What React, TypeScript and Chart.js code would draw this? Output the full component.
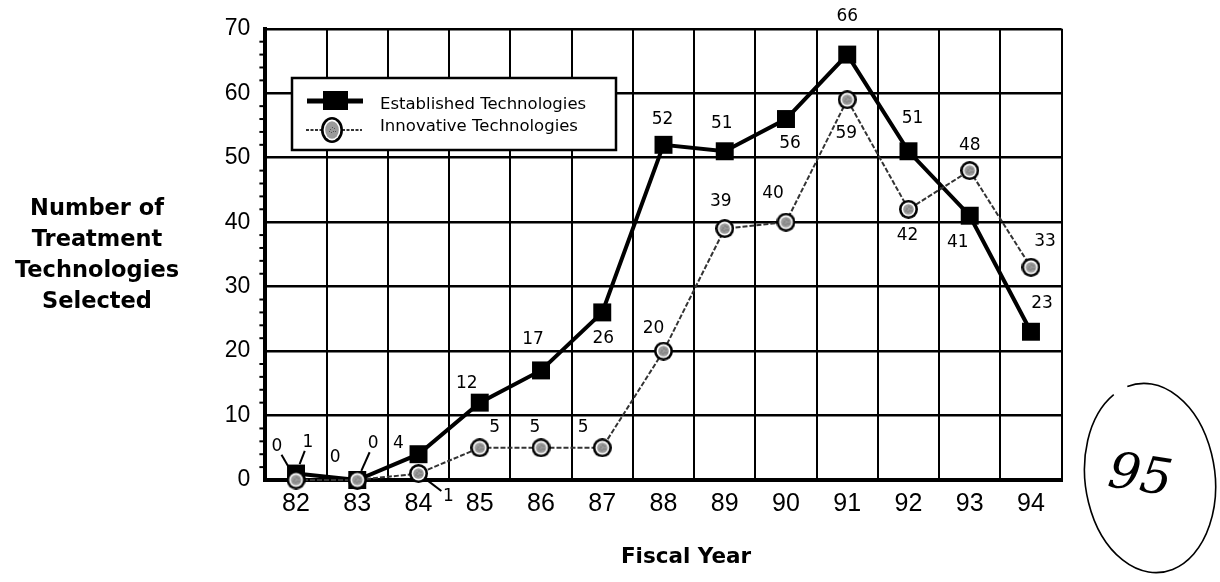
import React, { useEffect, useRef } from "react";
import { Chart, registerables } from "chart.js";

Chart.register(...registerables);

const years = ["82", "83", "84", "85", "86", "87", "88", "89", "90", "91", "92", "93", "94"];
const established = [1, 0, 4, 12, 17, 26, 52, 51, 56, 66, 51, 41, 23];
const innovative = [0, 0, 1, 5, 5, 5, 20, 39, 40, 59, 42, 48, 33];
const yTickValues = [0, 10, 20, 30, 40, 50, 60, 70];
const seriesNames = ["Established Technologies", "Innovative Technologies"];
const yTitleLines = ["Number of", "Treatment", "Technologies", "Selected"];
const xTitle = "Fiscal Year";

// label placement (dx, dy, leader line) per point
const estLabelPlace: [number, number, boolean][] = [
  [12, -31, true], [-22, -22, false], [-20, -11, false], [-13, -19, false],
  [-8, -31, false], [1, 26, false], [-1, -25, false], [-3, -28, false],
  [4, 25, false], [0, -38, false], [4, -33, false], [-12, 27, false], [11, -28, false],
];
const innLabelPlace: [number, number, boolean][] = [
  [-19, -33, true], [16, -36, true], [30, 23, true], [15, -20, false],
  [-6, -20, false], [-19, -20, false], [-10, -23, false], [-4, -27, false],
  [-13, -29, false], [-1, 34, false], [-1, 26, false], [0, -25, false], [14, -26, false],
];

const FONT = "'Liberation Sans', Arial, Helvetica, sans-serif";
const WIDE = "'DejaVu Sans', Verdana, sans-serif";

function makeCircleMarker(w: number, h: number): HTMLCanvasElement {
  const c = document.createElement("canvas");
  c.width = w;
  c.height = h;
  const g = c.getContext("2d")!;
  const cx = w / 2, cy = h / 2;
  g.fillStyle = "#000";
  g.beginPath();
  g.ellipse(cx, cy, w / 2, h / 2, 0, 0, Math.PI * 2);
  g.fill();
  g.fillStyle = "#fff";
  g.beginPath();
  g.ellipse(cx, cy, w / 2 - 2.6, h / 2 - 2.6, 0, 0, Math.PI * 2);
  g.fill();
  g.fillStyle = "#9a9a9a";
  g.beginPath();
  g.ellipse(cx, cy, w / 2 - 4.2, h / 2 - 4.2, 0, 0, Math.PI * 2);
  g.fill();
  g.fillStyle = "#555";
  const dots = [[-2, -1], [1, 1], [2, -2], [-1, 2], [0, -3], [-3, 1], [3, 1]];
  dots.forEach(([dx, dy]) => {
    if (Math.hypot(dx, dy) < w / 2 - 5) g.fillRect(cx + dx, cy + dy, 1, 1);
  });
  return c;
}

const overlayPlugin = {
  id: "overlay",
  afterDatasetsDraw(chart: any) {
    const ctx = chart.ctx;
    ctx.save();
    ctx.fillStyle = "#000";
    ctx.strokeStyle = "#000";
    ctx.font = `17px ${WIDE}`;
    ctx.textAlign = "center";
    ctx.textBaseline = "middle";
    const sets: [number, number[], [number, number, boolean][]][] = [
      [0, established, estLabelPlace],
      [1, innovative, innLabelPlace],
    ];
    sets.forEach(([di, vals, place]) => {
      const meta = chart.getDatasetMeta(di);
      vals.forEach((v, i) => {
        const p = meta.data[i];
        const [dx, dy, leader] = place[i];
        const lx = p.x + dx;
        const ly = p.y + dy;
        ctx.fillText(String(v), lx, ly);
        if (leader) {
          const vx = p.x - lx;
          const vy = p.y - ly;
          const len = Math.hypot(vx, vy);
          const ux = vx / len;
          const uy = vy / len;
          ctx.lineWidth = 2;
          ctx.beginPath();
          ctx.moveTo(lx + ux * 9, ly + uy * 9);
          ctx.lineTo(p.x - ux * 10, p.y - uy * 10);
          ctx.stroke();
        }
      });
    });
    ctx.restore();
  },
  afterDraw(chart: any) {
    const ctx = chart.ctx;
    const area = chart.chartArea;
    const yScale = chart.scales.y;
    ctx.save();
    // minor ticks on the left axis
    ctx.strokeStyle = "#000";
    ctx.lineWidth = 2;
    for (let v = 0; v <= 70; v += 2) {
      if (v % 10 === 0) continue;
      const y = yScale.getPixelForValue(v);
      ctx.beginPath();
      ctx.moveTo(area.left - 6, y);
      ctx.lineTo(area.left, y);
      ctx.stroke();
    }
    // y title
    ctx.fillStyle = "#000";
    ctx.font = `bold 22.5px ${WIDE}`;
    ctx.textAlign = "center";
    ctx.textBaseline = "middle";
    yTitleLines.forEach((t, i) => ctx.fillText(t, 97, 209 + i * 31));
    // x title
    ctx.font = `bold 21.5px ${WIDE}`;
    ctx.fillText(xTitle, 686, 557);

    // legend
    const bx = 292, by = 78, bw = 324, bh = 72;
    ctx.fillStyle = "#fff";
    ctx.fillRect(bx, by, bw, bh);
    ctx.lineWidth = 2.5;
    ctx.strokeStyle = "#000";
    ctx.strokeRect(bx, by, bw, bh);
    // established sample
    ctx.lineWidth = 5;
    ctx.beginPath();
    ctx.moveTo(307, 101);
    ctx.lineTo(363, 101);
    ctx.stroke();
    ctx.fillStyle = "#000";
    ctx.fillRect(323, 91, 25, 19);
    // innovative sample
    ctx.lineWidth = 2;
    ctx.strokeStyle = "#333";
    ctx.setLineDash([3, 1.5]);
    ctx.beginPath();
    ctx.moveTo(306, 130);
    ctx.lineTo(362, 130);
    ctx.stroke();
    ctx.setLineDash([]);
    ctx.drawImage(makeCircleMarker(22, 26), 321, 117);
    ctx.fillStyle = "#000";
    ctx.font = `16.5px ${WIDE}`;
    ctx.textAlign = "left";
    ctx.fillText(seriesNames[0], 380, 105);
    ctx.fillText(seriesNames[1], 380, 127);

    // handwritten mark
    ctx.strokeStyle = "#000";
    ctx.lineWidth = 1.6;
    ctx.beginPath();
    ctx.ellipse(1150, 478, 65, 95, -0.12, -1.75, 4.3);
    ctx.stroke();
    ctx.save();
    ctx.translate(1140, 478);
    ctx.rotate(0.15);
    ctx.font = `italic 50px 'DejaVu Serif', serif`;
    ctx.textAlign = "center";
    ctx.fillText("95", 0, 0);
    ctx.restore();
    ctx.restore();
  },
};

export default function App() {
  const ref = useRef<HTMLCanvasElement | null>(null);
  useEffect(() => {
    document.body.style.margin = "0";
    const canvas = ref.current!;
    const circle = makeCircleMarker(19, 19);
    const chart = new Chart(canvas, {
      type: "line",
      data: {
        labels: years,
        datasets: [
          {
            label: seriesNames[0],
            data: established,
            borderColor: "#000",
            borderWidth: 4,
            pointStyle: "rect",
            pointRadius: 12.7,
            pointBackgroundColor: "#000",
            pointBorderColor: "#000",
            pointBorderWidth: 0,
            tension: 0,
            clip: false,
            order: 2,
          } as any,
          {
            label: seriesNames[1],
            data: innovative,
            borderColor: "#333",
            borderWidth: 2,
            borderDash: [5, 2],
            pointStyle: circle,
            pointRadius: 9,
            tension: 0,
            clip: false,
            order: 1,
          } as any,
        ],
      },
      options: {
        responsive: false,
        animation: false,
        events: [],
        layout: { padding: { left: 0, top: 25, right: 158.4, bottom: 0 } },
        plugins: { legend: { display: false }, tooltip: { enabled: false } },
        scales: {
          x: {
            type: "category",
            offset: true,
            grid: { offset: true, color: "#000", lineWidth: 2, drawTicks: false },
            border: { color: "#000", width: 4 },
            ticks: { color: "#000", font: { family: FONT, size: 25 }, padding: 9, maxRotation: 0 },
            afterFit: (s: any) => { s.height = 102; },
          },
          y: {
            min: 0,
            max: 70,
            afterBuildTicks: (s: any) => { s.ticks = yTickValues.map((v) => ({ value: v })); },
            grid: { color: "#000", lineWidth: 2.5, drawTicks: false },
            border: { color: "#000", width: 4 },
            ticks: { color: "#000", font: { family: FONT, size: 23 }, padding: 15 },
            afterFit: (s: any) => { s.width = 265.4; },
          },
        },
      } as any,
      plugins: [overlayPlugin],
    });
    return () => chart.destroy();
  }, []);
  return (
    <div style={{ width: 1220, height: 582 }}>
      <canvas ref={ref} width={1220} height={582} style={{ display: "block" }} />
    </div>
  );
}
